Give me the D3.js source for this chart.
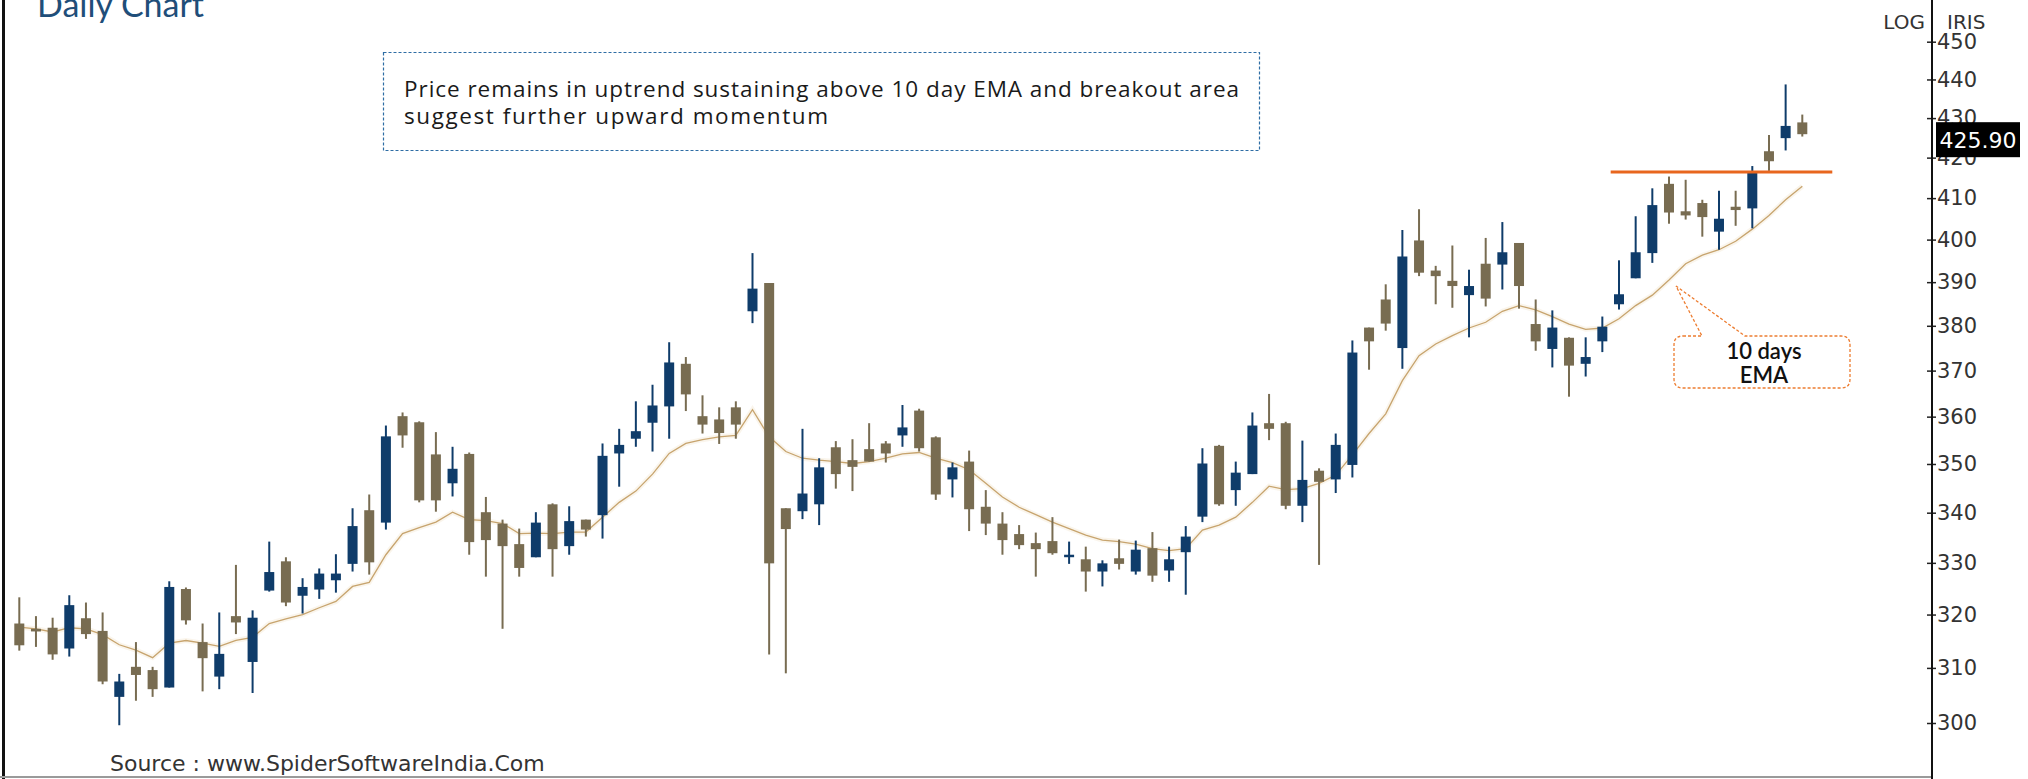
<!DOCTYPE html>
<html><head><meta charset="utf-8">
<script src="https://cdn.jsdelivr.net/npm/d3@7"></script>
<style>html,body{margin:0;padding:0;background:#fff;overflow:hidden}</style>
</head><body>
<svg id="c" width="2028" height="779"></svg>
<script>
// ---------- data ----------
const days = d3.range(1, 109);
const open  = [318.3,317.3,317.5,313.6,319.3,316.9,304.7,310.2,309.6,306.4,324.9,314.8,308.4,319.7,311.1,324.6,330.3,323.6,324.8,326.6,329.8,340.5,338.0,360.1,358.8,352.0,346.0,352.1,340.1,337.8,333.7,331.1,341.7,333.3,338.6,339.5,352.2,355.3,358.7,362.2,371.5,360.1,359.4,362.0,383.3,389.8,340.9,340.3,341.7,353.5,350.8,353.1,354.3,356.0,361.3,355.6,346.8,350.5,341.2,337.8,335.7,333.9,334.3,331.2,330.7,328.3,330.9,328.3,332.9,328.5,332.1,339.2,353.8,344.6,347.9,358.6,358.6,341.4,348.6,346.8,349.8,379.6,386.0,375.0,399.8,392.7,390.3,387.0,394.3,394.1,399.2,380.4,374.8,377.3,371.5,376.5,384.9,390.9,396.8,413.5,406.8,408.8,401.9,407.9,407.5,421.6,424.9,428.9];
const high  = [323.3,319.7,319.4,323.7,322.3,320.4,308.9,314.8,310.2,326.4,325.2,318.3,320.4,329.6,320.8,334.2,331.1,327.0,328.9,331.7,340.9,343.7,358.1,360.9,359.0,356.7,353.6,352.4,343.2,338.6,336.8,340.1,341.9,341.3,338.6,354.3,357.4,363.3,366.9,376.3,373.0,364.6,362.0,363.3,396.8,389.8,340.9,357.4,351.2,354.8,355.2,358.6,354.8,362.5,361.7,355.8,350.3,352.8,344.6,340.1,337.5,336.0,339.1,334.2,333.2,330.5,334.6,334.4,336.1,333.2,337.3,353.3,354.0,350.5,360.9,364.9,358.9,354.9,349.1,356.4,376.7,379.6,389.5,402.3,407.3,393.8,398.6,392.9,400.4,404.2,399.2,386.0,383.5,377.4,377.4,382.1,395.1,405.6,412.4,415.3,414.5,409.6,411.8,411.8,417.9,425.7,438.7,430.9];
const low   = [313.2,313.9,311.5,312.1,315.4,307.0,299.6,304.0,304.7,306.4,318.1,305.7,306.1,316.3,305.4,324.4,321.6,320.2,323.0,324.2,328.3,327.7,336.6,353.4,342.1,340.2,343.3,331.6,327.3,317.3,327.3,331.1,327.3,331.6,335.2,334.8,345.3,353.6,352.6,355.3,361.2,356.4,354.2,355.3,380.6,312.5,309.0,338.7,337.5,344.9,344.4,350.5,350.3,353.6,352.6,342.6,343.1,336.3,335.5,331.6,332.7,327.3,331.6,329.8,324.4,325.4,328.7,327.7,326.3,326.3,323.8,338.1,341.4,341.4,347.9,355.0,340.7,338.1,329.6,344.0,347.2,370.2,378.9,370.4,391.4,384.9,384.1,377.4,384.4,388.3,383.9,374.4,370.7,364.3,368.7,374.1,383.7,390.9,394.5,403.8,404.8,400.7,397.6,403.3,402.7,416.7,421.8,425.3];
const close = [314.2,316.8,312.5,321.8,316.3,307.5,307.5,308.7,306.1,325.3,318.9,311.8,312.6,318.5,319.4,328.2,322.3,325.3,327.9,327.9,337.3,330.1,355.8,356.0,342.5,342.5,349.0,334.1,334.5,333.3,329.0,338.0,332.7,338.3,336.6,351.7,354.0,356.9,362.4,371.8,364.8,358.3,356.5,358.3,388.5,329.9,336.7,343.9,349.3,347.9,349.4,350.5,352.2,357.7,353.3,343.7,349.3,340.7,337.8,334.5,333.5,332.7,331.9,331.6,328.3,329.9,329.8,332.6,327.5,330.7,335.2,350.1,341.7,348.2,358.1,357.4,341.4,346.7,346.3,354.0,374.0,376.5,380.5,396.0,392.2,391.4,389.1,389.1,386.2,397.0,389.1,376.5,379.6,371.1,373.0,379.8,387.2,397.0,408.3,406.5,405.8,405.4,405.0,407.1,416.3,419.1,428.0,425.9];
const ema10 = [317.6,317.3,316.7,317.5,317.3,316.2,314.3,313.3,311.9,314.6,315.1,314.6,314.0,315.1,315.7,318.3,319.2,320.0,321.3,322.5,325.4,326.2,331.6,335.8,337.0,338.1,340.1,338.6,338.4,337.8,335.8,335.9,335.8,336.1,336.1,339.1,342.1,344.4,347.9,352.2,354.3,355.1,355.7,356.0,361.5,355.7,352.6,351.2,350.8,350.5,350.1,350.5,351.2,352.1,352.4,351.2,350.3,348.8,346.0,343.2,341.1,339.6,338.1,336.8,335.5,334.5,334.2,333.7,332.8,332.4,332.8,336.5,337.5,339.1,342.1,345.4,344.7,344.9,346.0,347.7,351.9,356.4,360.6,367.8,373.3,375.9,377.8,379.5,380.8,383.3,384.6,383.6,382.1,380.4,379.2,379.5,381.6,384.6,387.0,390.5,394.3,396.3,397.6,399.6,402.5,405.8,409.6,412.9];
const yTicks = [300,310,320,330,340,350,360,370,380,390,400,410,420,430,440,450];
const lastPrice = 425.90;
const breakoutLevel = 416.4;
const breakoutFrom = 96.5, breakoutTo = 109.8;   // day positions of the drawn level
const noteLines = ["Price remains in uptrend sustaining above 10 day EMA and breakout area", "suggest further upward momentum"];
const emaLabel = ["10 days", "EMA"];

// ---------- layout ----------
const svg = d3.select('#c');
const axisX = 1932;
const x = d3.scaleLinear().domain([1, 108]).range([19.3, 1802.3]);
const y = d3.scaleLog().domain([300, 450]).range([723, 41.7]);
const UP = '#0f3c6a', DOWN = '#786c51';

svg.append('rect').attr('width', 2028).attr('height', 779).attr('fill', '#fff');

// EMA line (under candles)
const line = d3.line().x((d, i) => x(days[i])).y(d => y(d)).curve(d3.curveLinear);
svg.append('path').datum(ema10).attr('d', line).attr('fill', 'none')
  .attr('stroke', '#f7efe0').attr('stroke-width', 5).attr('opacity', 0.6);
svg.append('path').datum(ema10).attr('d', line).attr('fill', 'none')
  .attr('stroke', '#c7a46e').attr('stroke-width', 1.3);

// candles
const candles = days.map((d, i) => ({d, o: open[i], h: high[i], l: low[i], c: close[i]}));
const g = svg.append('g');
g.selectAll('line.w').data(candles).join('line')
  .attr('x1', d => x(d.d)).attr('x2', d => x(d.d))
  .attr('y1', d => y(d.h)).attr('y2', d => y(d.l))
  .attr('stroke', d => d.c >= d.o ? UP : DOWN).attr('stroke-width', 2);
g.selectAll('rect.b').data(candles).join('rect')
  .attr('x', d => x(d.d) - 5).attr('width', 10)
  .attr('y', d => y(Math.max(d.o, d.c)))
  .attr('height', d => Math.max(2.5, y(Math.min(d.o, d.c)) - y(Math.max(d.o, d.c))))
  .attr('fill', d => d.c >= d.o ? UP : DOWN);

// breakout level
svg.append('line').attr('x1', x(breakoutFrom)).attr('x2', x(breakoutTo))
  .attr('y1', y(breakoutLevel)).attr('y2', y(breakoutLevel))
  .attr('stroke', '#e8661e').attr('stroke-width', 3);

// frame
svg.append('rect').attr('x', 2).attr('y', 0).attr('width', 3).attr('height', 779).attr('fill', '#111');
svg.append('line').attr('x1', 0).attr('x2', axisX).attr('y1', 777).attr('y2', 777)
  .attr('stroke', '#9a9a9a').attr('stroke-width', 2);

// right axis
const ax = svg.append('g').attr('transform', `translate(${axisX},0)`)
  .call(d3.axisRight(y).tickValues(yTicks).tickFormat(d3.format('d')).tickSize(5).tickPadding(1));
ax.select('.domain').remove();
ax.selectAll('.tick line').attr('x1', -5).attr('x2', 4).attr('stroke', '#222').attr('stroke-width', 1.5);
ax.selectAll('.tick text').attr('font-family', 'DejaVu Sans, Verdana, sans-serif')
  .attr('font-size', 21).attr('fill', '#333').attr('x', 5);
svg.append('line').attr('x1', axisX).attr('x2', axisX).attr('y1', 0).attr('y2', 779)
  .attr('stroke', '#111').attr('stroke-width', 2);
svg.append('text').attr('x', 1925).attr('y', 29).attr('text-anchor', 'end')
  .attr('font-family', 'DejaVu Sans, Verdana, sans-serif').attr('font-size', 20).attr('fill', '#333').text('LOG');
svg.append('text').attr('x', 1947).attr('y', 29)
  .attr('font-family', 'DejaVu Sans, Verdana, sans-serif').attr('font-size', 20).attr('fill', '#333').text('IRIS');

// last price tag
const py = y(lastPrice);
svg.append('rect').attr('x', 1936).attr('y', py - 12).attr('width', 84).attr('height', 35).attr('fill', '#000');
svg.append('text').attr('x', 1978).attr('y', py + 6).attr('text-anchor', 'middle').attr('dominant-baseline', 'central')
  .attr('font-family', 'DejaVu Sans, Verdana, sans-serif').attr('font-size', 22).attr('fill', '#fff')
  .text(lastPrice.toFixed(2));

// title
svg.append('text').attr('x', 37).attr('y', 17).attr('font-family', 'Lato, sans-serif')
  .attr('font-size', 34).attr('fill', '#1f4e79').text('Daily Chart');

// note box
svg.append('rect').attr('x', 383.5).attr('y', 52.5).attr('width', 876).attr('height', 98)
  .attr('fill', 'none').attr('stroke', '#2e6da4').attr('stroke-width', 1.2).attr('stroke-dasharray', '3,2');
const noteWidths = [835, 424];
svg.selectAll('text.note').data(noteLines).join('text').attr('class', 'note')
  .attr('x', 404).attr('y', (d, i) => 97 + i * 27)
  .attr('font-family', '"Open Sans", Lato, sans-serif').attr('font-size', 22.5).attr('fill', '#1a1a1a')
  .attr('textLength', (d, i) => noteWidths[i]).attr('lengthAdjust', 'spacing')
  .text(d => d);

// EMA callout
const bx0 = 1674, bx1 = 1850, by0 = 336, by1 = 388, r = 9;
const tipX = 1676, tipY = 286;
const cp = d3.path();
cp.moveTo(bx0 + r, by0); cp.lineTo(1702, by0); cp.lineTo(tipX, tipY); cp.lineTo(1745, by0);
cp.lineTo(bx1 - r, by0); cp.quadraticCurveTo(bx1, by0, bx1, by0 + r);
cp.lineTo(bx1, by1 - r); cp.quadraticCurveTo(bx1, by1, bx1 - r, by1);
cp.lineTo(bx0 + r, by1); cp.quadraticCurveTo(bx0, by1, bx0, by1 - r);
cp.lineTo(bx0, by0 + r); cp.quadraticCurveTo(bx0, by0, bx0 + r, by0); cp.closePath();
svg.append('path').attr('d', cp.toString()).attr('fill', 'none')
  .attr('stroke', '#ed7d31').attr('stroke-width', 1.3).attr('stroke-dasharray', '3,2');
svg.selectAll('text.ema').data(emaLabel).join('text').attr('class', 'ema')
  .attr('x', 1764).attr('y', (d, i) => 359 + i * 24).attr('text-anchor', 'middle')
  .attr('font-family', 'Lato, sans-serif').attr('font-size', 22).attr('font-weight', 600).attr('fill', '#111')
  .text(d => d);

// source
svg.append('text').attr('x', 110).attr('y', 771)
  .attr('font-family', 'DejaVu Sans, Verdana, sans-serif').attr('font-size', 22).attr('fill', '#333')
  .text('Source : www.SpiderSoftwareIndia.Com');
</script>
</body></html>
